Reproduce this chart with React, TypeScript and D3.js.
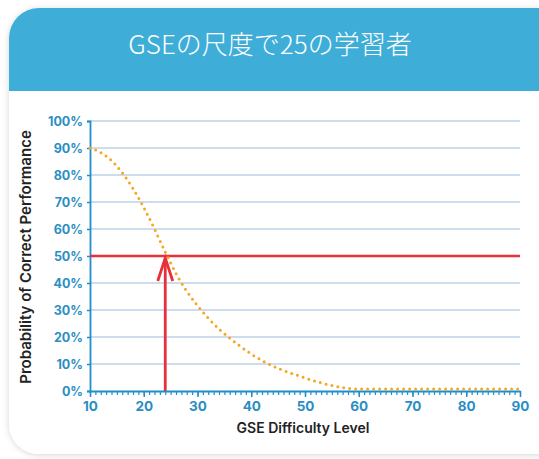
import { useEffect, useRef } from "react";
import * as d3 from "d3";

const W = 539;
const H = 459;

const TITLE = "GSEの尺度で25の学習者";
const X_LABEL = "GSE Difficulty Level";
const Y_LABEL = "Probability of Correct Performance";

// probability curve (GSE level, % correct)
const curveLevels = [10, 12, 14, 16, 18, 20, 22, 24, 26, 28, 30, 32, 34, 36, 38, 40, 42, 45, 48, 51, 54, 57, 60, 65, 70, 80, 90];
const curvePercents = [90, 88.3, 85.3, 80.8, 75, 68, 60, 51.5, 43.5, 37, 31.6, 27, 23, 19.6, 16.5, 13.7, 11.3, 8.4, 6.2, 4.2, 2.5, 1.3, 0.7, 0.7, 0.7, 0.7, 0.7];

const learnerLevel = 24;
const targetPercent = 50;

const yTicks = [0, 10, 20, 30, 40, 50, 60, 70, 80, 90, 100];
const xTicks = [10, 20, 30, 40, 50, 60, 70, 80, 90];

export default function App() {
  const ref = useRef<SVGSVGElement | null>(null);

  useEffect(() => {
    const svg = d3.select(ref.current!);
    svg.selectAll("*").remove();

    const x = d3.scaleLinear().domain([10, 90]).range([90, 520]);
    const y = d3.scaleLinear().domain([0, 100]).range([391, 121]);

    const blue = "#2a8ec4";
    const axisBlue = "#1d8fcb";
    const red = "#e8303a";

    // card
    const defs = svg.append("defs");
    const f = defs.append("filter").attr("id", "sh").attr("x", "-10%").attr("y", "-10%").attr("width", "120%").attr("height", "120%");
    f.append("feDropShadow").attr("dx", 0).attr("dy", 1).attr("stdDeviation", 3).attr("flood-color", "#000").attr("flood-opacity", 0.16);
    defs.append("clipPath").attr("id", "card").append("rect")
      .attr("x", 9).attr("y", 8).attr("width", 560).attr("height", 446).attr("rx", 30);

    svg.append("rect").attr("x", 9).attr("y", 8).attr("width", 560).attr("height", 446).attr("rx", 30)
      .attr("fill", "#fff").attr("filter", "url(#sh)");
    svg.append("rect").attr("x", 9).attr("y", 8).attr("width", 560).attr("height", 83)
      .attr("fill", "#3eaed9").attr("clip-path", "url(#card)");

    svg.append("text").attr("x", 270).attr("y", 54).attr("text-anchor", "middle")
      .style("font", "300 26px 'Noto Sans CJK JP', 'Noto Sans', sans-serif")
      .style("fill", "#fff").text(TITLE);

    // grid
    svg.append("g").selectAll("line").data(yTicks.filter((d) => d > 0)).join("line")
      .attr("x1", x(10)).attr("x2", x(90))
      .attr("y1", (d) => y(d)).attr("y2", (d) => y(d))
      .attr("stroke", "#bcd2e9").attr("stroke-width", 1.5);

    // y axis
    const yAxis = svg.append("g").attr("transform", `translate(${x(10)},0)`)
      .call(d3.axisLeft(y).tickValues(yTicks).tickSize(3).tickPadding(4).tickFormat((d) => `${d}%`));
    yAxis.select(".domain").attr("stroke", axisBlue).attr("stroke-width", 1.8);
    yAxis.selectAll(".tick line").attr("stroke", axisBlue).attr("stroke-width", 1.5);
    yAxis.selectAll(".tick text")
      .style("font", "700 12.5px Inter, 'Liberation Sans', sans-serif").style("fill", blue);

    // x axis: minor ticks every unit
    const xMinor = svg.append("g").attr("transform", `translate(0,${y(0)})`)
      .call(d3.axisBottom(x).tickValues(d3.range(10, 91, 1)).tickSize(4).tickFormat(() => ""));
    xMinor.select(".domain").remove();
    xMinor.selectAll(".tick line").attr("stroke", axisBlue).attr("stroke-width", 1.2);

    const xAxis = svg.append("g").attr("transform", `translate(0,${y(0)})`)
      .call(d3.axisBottom(x).tickValues(xTicks).tickSize(6).tickSizeOuter(0).tickPadding(4).tickFormat((d) => `${d}`));
    xAxis.select(".domain").attr("stroke", axisBlue).attr("stroke-width", 2);
    xAxis.selectAll(".tick line").attr("stroke", axisBlue).attr("stroke-width", 1.5);
    xAxis.selectAll(".tick text")
      .style("font", "700 13.5px Inter, 'Liberation Sans', sans-serif").style("fill", blue);

    // axis titles
    svg.append("text").attr("x", 303).attr("y", 433).attr("text-anchor", "middle")
      .style("font", "600 14px Inter, 'Liberation Sans', sans-serif").style("fill", "#222").text(X_LABEL);
    svg.append("text").attr("transform", `translate(31,${y(50) + 1}) rotate(-90)`).attr("text-anchor", "middle")
      .style("font", "600 15px Inter, 'Liberation Sans', sans-serif").style("fill", "#222").text(Y_LABEL);

    // red target line
    svg.append("line").attr("x1", x(10)).attr("x2", x(90))
      .attr("y1", y(targetPercent)).attr("y2", y(targetPercent))
      .attr("stroke", red).attr("stroke-width", 2.5);

    // dotted curve
    const pts = curveLevels.map((lv, i) => [lv, curvePercents[i]] as [number, number]);
    const line = d3.line<[number, number]>().x((d) => x(d[0])).y((d) => y(d[1])).curve(d3.curveMonotoneX);
    svg.append("path").attr("d", line(pts)!).attr("fill", "none")
      .attr("stroke", "#f5a623").attr("stroke-width", 3).attr("stroke-linecap", "round")
      .attr("stroke-dasharray", "0 6");

    // arrow
    const ax = x(learnerLevel);
    const tip = y(targetPercent) + 1;
    svg.append("line").attr("x1", ax).attr("x2", ax).attr("y1", y(0)).attr("y2", tip + 2)
      .attr("stroke", red).attr("stroke-width", 2.8);
    svg.append("path")
      .attr("d", `M${ax - 7.5},${tip + 24}L${ax},${tip + 1}L${ax + 7.5},${tip + 24}`)
      .attr("fill", "none").attr("stroke", red).attr("stroke-width", 2.8);
  }, []);

  return (
    <svg ref={ref} width={W} height={H} style={{ position: "absolute", left: 0, top: 0 }} />
  );
}
